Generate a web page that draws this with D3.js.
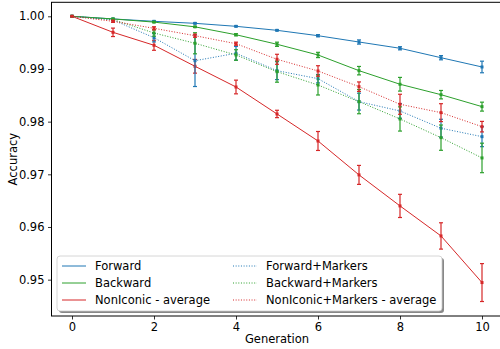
<!DOCTYPE html>
<html>
<head>
<meta charset="utf-8">
<script src="https://cdn.jsdelivr.net/npm/d3@7"></script>
<style>
  body { margin: 0; background: #fff; }
  svg { font-family: "DejaVu Sans", sans-serif; display: block; }
</style>
</head>
<body>
<svg width="500" height="349"></svg>
<script>
const svg = d3.select('svg');

const generations = [0, 1, 2, 3, 4, 5, 6, 7, 8, 9, 10];
const yTicks = [0.95, 0.96, 0.97, 0.98, 0.99, 1.00];
const xTicks = [0, 2, 4, 6, 8, 10];

const forward = [1.0, 0.9995, 0.99905, 0.99867, 0.9981, 0.99734, 0.99632, 0.99512, 0.99393, 0.99214, 0.99038];
const forwardErr = [0, 0.0001, 0.0001, 0.0001, 0.0001, 0.0001, 0.0002, 0.0004, 0.0003, 0.0004, 0.0011];
const backward = [1.0, 0.9995, 0.9989, 0.998, 0.9965, 0.99469, 0.99266, 0.98968, 0.9871, 0.98512, 0.98285];
const backwardErr = [0, 0.0001, 0.0001, 0.0001, 0.0002, 0.0004, 0.0005, 0.0008, 0.0013, 0.0008, 0.00085];
const nonIconic = [1.0, 0.99696, 0.9945, 0.99051, 0.98658, 0.98146, 0.97633, 0.96989, 0.964, 0.9583, 0.94945];
const nonIconicErr = [0, 0.0008, 0.00095, 0.0013, 0.0013, 0.0007, 0.0018, 0.0018, 0.0022, 0.0025, 0.0036];
const forwardM = [1.0, 0.9993, 0.99594, 0.99157, 0.99298, 0.98968, 0.98816, 0.9838, 0.98203, 0.97875, 0.97715];
const forwardMErr = [0, 0.0001, 0.0008, 0.0049, 0.0013, 0.0017, 0.0008, 0.0016, 0.0014, 0.0017, 0.0019];
const backwardM = [1.0, 0.9994, 0.99683, 0.99488, 0.99266, 0.98949, 0.98696, 0.9838, 0.98051, 0.97696, 0.97311];
const backwardMErr = [0, 0.0001, 0.0006, 0.002, 0.001, 0.002, 0.0019, 0.0023, 0.0023, 0.0024, 0.0028];
const nonIconicM = [1.0, 0.99905, 0.99772, 0.99632, 0.9948, 0.99184, 0.98962, 0.98664, 0.9833, 0.98171, 0.97905];
const nonIconicMErr = [0, 0.0002, 0.0003, 0.0003, 0.0003, 0.00095, 0.001, 0.0009, 0.0019, 0.0017, 0.001];

const blue = '#1f77b4', green = '#2ca02c', red = '#d62728';

const series = [
  { name: 'Forward', values: forward, err: forwardErr, color: blue, dotted: false },
  { name: 'Backward', values: backward, err: backwardErr, color: green, dotted: false },
  { name: 'NonIconic - average', values: nonIconic, err: nonIconicErr, color: red, dotted: false },
  { name: 'Forward+Markers', values: forwardM, err: forwardMErr, color: blue, dotted: true },
  { name: 'Backward+Markers', values: backwardM, err: backwardMErr, color: green, dotted: true },
  { name: 'NonIconic+Markers - average', values: nonIconicM, err: nonIconicMErr, color: red, dotted: true },
];

const plot = { left: 51.5, right: 502.5, top: 2.3, bottom: 316 };

const x = d3.scaleLinear().domain([-0.5, 10.5]).range([plot.left, plot.right]);
const y = d3.scaleLinear().domain([0.9431, 1.00266]).range([plot.bottom, plot.top]);

// axes
const xAxis = svg.append('g')
  .attr('transform', `translate(0,${plot.bottom})`)
  .call(d3.axisBottom(x).tickValues(xTicks).tickFormat(d3.format('d')).tickSizeOuter(0).tickSize(3.5).tickPadding(3.5));
const yAxis = svg.append('g')
  .attr('transform', `translate(${plot.left},0)`)
  .call(d3.axisLeft(y).tickValues(yTicks).tickFormat(d3.format('.2f')).tickSizeOuter(0).tickSize(3.5).tickPadding(3.5));

[xAxis, yAxis].forEach(g => {
  g.select('.domain').remove();
  g.selectAll('text').attr('font-size', 11.5).attr('fill', '#000').attr('font-family', 'DejaVu Sans');
  g.selectAll('line').attr('stroke', '#000').attr('stroke-width', 0.8);
});

// spines
svg.append('rect')
  .attr('x', plot.left).attr('y', plot.top)
  .attr('width', plot.right - plot.left).attr('height', plot.bottom - plot.top)
  .attr('fill', 'none').attr('stroke', '#000').attr('stroke-width', 1);

const line = d3.line().x((d, i) => x(generations[i])).y(d => y(d));

series.forEach(s => {
  const g = svg.append('g');
  g.append('path')
    .datum(s.values)
    .attr('d', line)
    .attr('fill', 'none')
    .attr('stroke', s.color)
    .attr('stroke-width', 1)
    .attr('stroke-dasharray', s.dotted ? '1,1.65' : null);

  const pts = s.values.map((v, i) => ({ g: generations[i], v, e: s.err[i] }));
  g.selectAll('.eb').data(pts).enter().append('line')
    .attr('x1', d => x(d.g)).attr('x2', d => x(d.g))
    .attr('y1', d => y(d.v - d.e)).attr('y2', d => y(d.v + d.e))
    .attr('stroke', s.color).attr('stroke-width', 1.2);
  ['top', 'bot'].forEach(k => {
    g.selectAll('.cap' + k).data(pts).enter().append('line')
      .attr('x1', d => x(d.g) - 2).attr('x2', d => x(d.g) + 2)
      .attr('y1', d => y(k === 'top' ? d.v + d.e : d.v - d.e))
      .attr('y2', d => y(k === 'top' ? d.v + d.e : d.v - d.e))
      .attr('stroke', s.color).attr('stroke-width', 1.2);
  });
  g.selectAll('.mk').data(pts).enter().append('rect')
    .attr('x', d => x(d.g) - 1.5).attr('y', d => y(d.v) - 1.5)
    .attr('width', 3).attr('height', 3)
    .attr('fill', s.color);
});

// axis labels
svg.append('text')
  .attr('x', (plot.left + plot.right) / 2).attr('y', 343)
  .attr('text-anchor', 'middle').attr('font-size', 11.5)
  .text('Generation');
svg.append('text')
  .attr('transform', `translate(17,${(plot.top + plot.bottom) / 2}) rotate(-90)`)
  .attr('text-anchor', 'middle').attr('font-size', 11.5)
  .text('Accuracy');

// legend
const leg = svg.append('g');
leg.append('rect')
  .attr('x', 59).attr('y', 258).attr('width', 385).attr('height', 55)
  .attr('rx', 3).attr('fill', '#888');
leg.append('rect')
  .attr('x', 57).attr('y', 256).attr('width', 385).attr('height', 55)
  .attr('rx', 3).attr('fill', '#fff').attr('stroke', '#ccc').attr('stroke-width', 0.8);

const cols = [{ lx: 62, tx: 95 }, { lx: 233, tx: 266 }];
series.forEach((s, i) => {
  const c = cols[Math.floor(i / 3)];
  const ry = 266 + (i % 3) * 17;
  leg.append('line')
    .attr('x1', c.lx).attr('x2', c.lx + 24)
    .attr('y1', ry).attr('y2', ry)
    .attr('stroke', s.color).attr('stroke-width', 1)
    .attr('stroke-dasharray', s.dotted ? '1,1.65' : null);
  leg.append('text')
    .attr('x', c.tx).attr('y', ry).attr('dy', '0.35em')
    .attr('font-size', 11.5)
    .text(s.name);
});
</script>
</body>
</html>
